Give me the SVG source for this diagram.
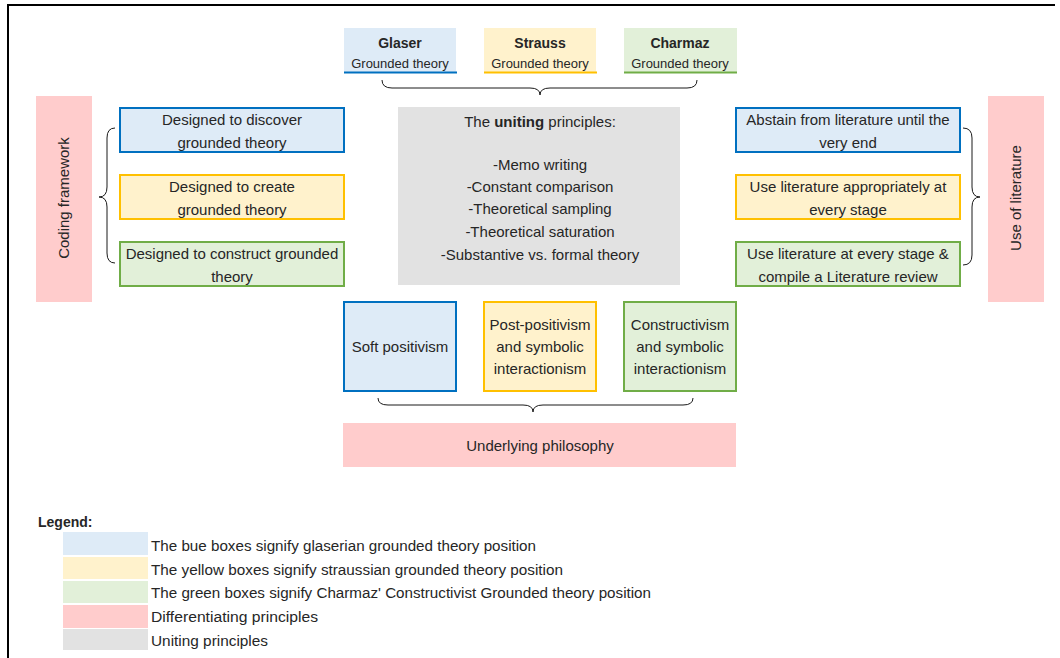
<svg xmlns="http://www.w3.org/2000/svg" width="1060" height="658" viewBox="0 0 1060 658">
  <style>
    text { font-family: "Liberation Sans", Arial, sans-serif; fill: #262626; }
    .t { font-size: 15px; text-anchor: middle; }
    .hd { font-size: 14px; font-weight: bold; text-anchor: middle; }
    .sub { font-size: 13px; text-anchor: middle; }
    .lg { font-size: 14px; }
    .blue { fill: #DEEBF7; }
    .yellow { fill: #FFF2CC; }
    .green { fill: #E2F0D9; }
    .pink { fill: #FFCCCC; }
    .grey { fill: #E2E2E2; }
    .bB { stroke: #0070C0; stroke-width: 2; }
    .bY { stroke: #FFC000; stroke-width: 2; }
    .bG { stroke: #70AD47; stroke-width: 2; }
    .brace { fill: none; stroke: #1a1a1a; stroke-width: 1; }
  </style>

  <!-- outer frame (top and left edges) -->
  <path d="M8,658 L8,5 L1055,5" fill="none" stroke="#000" stroke-width="2"/>

  <!-- header: the three authors -->
  <g id="glaser">
    <rect class="blue" x="344" y="28" width="112" height="45"/>
    <line x1="344" y1="72.5" x2="457" y2="72.5" stroke="#0070C0" stroke-width="2"/>
    <text class="hd" x="400" y="48">Glaser</text>
    <text class="sub" x="400" y="68">Grounded theory</text>
  </g>
  <g id="strauss">
    <rect class="yellow" x="484" y="28" width="112" height="45"/>
    <line x1="484" y1="72.5" x2="597" y2="72.5" stroke="#FFC000" stroke-width="2"/>
    <text class="hd" x="540" y="48">Strauss</text>
    <text class="sub" x="540" y="68">Grounded theory</text>
  </g>
  <g id="charmaz">
    <rect class="green" x="624" y="28" width="113" height="45"/>
    <line x1="624" y1="72.5" x2="737" y2="72.5" stroke="#70AD47" stroke-width="2"/>
    <text class="hd" x="680" y="48">Charmaz</text>
    <text class="sub" x="680" y="68">Grounded theory</text>
  </g>

  <!-- differentiating principle labels -->
  <g id="coding-framework">
    <rect class="pink" x="36" y="96" width="56" height="206"/>
    <text class="t" transform="translate(69,198) rotate(-90)">Coding framework</text>
  </g>
  <g id="use-of-literature">
    <rect class="pink" x="988" y="96" width="56" height="206"/>
    <text class="t" transform="translate(1021,198) rotate(-90)">Use of literature</text>
  </g>
  <g id="underlying-philosophy">
    <rect class="pink" x="343" y="423" width="393" height="44"/>
    <text class="t" x="540" y="451">Underlying philosophy</text>
  </g>

  <!-- coding framework positions -->
  <g id="code-glaser">
    <rect class="blue bB" x="120" y="108" width="224" height="44"/>
    <text class="t" x="232" y="125">Designed to discover</text>
    <text class="t" x="232" y="148">grounded theory</text>
  </g>
  <g id="code-strauss">
    <rect class="yellow bY" x="120" y="175" width="224" height="44"/>
    <text class="t" x="232" y="192">Designed to create</text>
    <text class="t" x="232" y="215">grounded theory</text>
  </g>
  <g id="code-charmaz">
    <rect class="green bG" x="120" y="242" width="224" height="44"/>
    <text class="t" x="232" y="259">Designed to construct grounded</text>
    <text class="t" x="232" y="282">theory</text>
  </g>

  <!-- literature positions -->
  <g id="lit-glaser">
    <rect class="blue bB" x="736" y="108" width="224" height="44"/>
    <text class="t" x="848" y="125">Abstain from literature until the</text>
    <text class="t" x="848" y="148">very end</text>
  </g>
  <g id="lit-strauss">
    <rect class="yellow bY" x="736" y="175" width="224" height="44"/>
    <text class="t" x="848" y="192">Use literature appropriately at</text>
    <text class="t" x="848" y="215">every stage</text>
  </g>
  <g id="lit-charmaz">
    <rect class="green bG" x="736" y="242" width="224" height="44"/>
    <text class="t" x="848" y="259">Use literature at every stage &amp;</text>
    <text class="t" x="848" y="282">compile a Literature review</text>
  </g>

  <!-- uniting principles -->
  <g id="uniting">
    <rect class="grey" x="398" y="107" width="282" height="178"/>
    <text class="t" x="540" y="127">The <tspan font-weight="bold">uniting</tspan> principles:</text>
    <text class="t" x="540" y="170">-Memo writing</text>
    <text class="t" x="540" y="192">-Constant comparison</text>
    <text class="t" x="540" y="214">-Theoretical sampling</text>
    <text class="t" x="540" y="237">-Theoretical saturation</text>
    <text class="t" x="540" y="260">-Substantive vs. formal theory</text>
  </g>

  <!-- philosophical positions -->
  <g id="phil-glaser">
    <rect class="blue bB" x="344" y="302" width="112" height="89"/>
    <text class="t" x="400" y="352">Soft positivism</text>
  </g>
  <g id="phil-strauss">
    <rect class="yellow bY" x="484" y="302" width="112" height="89"/>
    <text class="t" x="540" y="330">Post-positivism</text>
    <text class="t" x="540" y="352">and symbolic</text>
    <text class="t" x="540" y="374">interactionism</text>
  </g>
  <g id="phil-charmaz">
    <rect class="green bG" x="624" y="302" width="112" height="89"/>
    <text class="t" x="680" y="330">Constructivism</text>
    <text class="t" x="680" y="352">and symbolic</text>
    <text class="t" x="680" y="374">interactionism</text>
  </g>

  <!-- braces -->
  <g id="connectors">
    <path class="brace" d="M382,80 Q382,88 392,88 L530,88 Q540,88 540,95 Q540,88 550,88 L687,88 Q697,88 697,80"/>
    <path class="brace" d="M378,398 Q378,405 388,405 L523,405 Q533,405 533,412 Q533,405 543,405 L683,405 Q693,405 693,398"/>
    <path class="brace" d="M115,128 Q107,128 107,138 L107,187 Q107,197 99,197 Q107,197 107,207 L107,253 Q107,263 115,263"/>
    <path class="brace" d="M963,128 Q972,128 972,138 L972,187 Q972,197 980,197 Q972,197 972,207 L972,255 Q972,265 963,265"/>
  </g>

  <!-- legend -->
  <g id="legend">
    <text x="38" y="527" font-size="14" font-weight="bold">Legend:</text>
    <rect class="blue" x="63" y="532" width="85" height="23"/>
    <rect class="yellow" x="63" y="557" width="85" height="22"/>
    <rect class="green" x="63" y="581" width="85" height="22"/>
    <rect class="pink" x="63" y="605" width="85" height="23"/>
    <rect class="grey" x="63" y="629" width="85" height="21"/>
    <text class="lg" x="151" y="551" textLength="385" lengthAdjust="spacingAndGlyphs">The bue boxes signify glaserian grounded theory position</text>
    <text class="lg" x="151" y="575" textLength="412" lengthAdjust="spacingAndGlyphs">The yellow boxes signify straussian grounded theory position</text>
    <text class="lg" x="151" y="598" textLength="500" lengthAdjust="spacingAndGlyphs">The green boxes signify Charmaz' Constructivist Grounded theory position</text>
    <text class="lg" x="151" y="622" textLength="167" lengthAdjust="spacingAndGlyphs">Differentiating principles</text>
    <text class="lg" x="151" y="646" textLength="117" lengthAdjust="spacingAndGlyphs">Uniting principles</text>
  </g>
</svg>
